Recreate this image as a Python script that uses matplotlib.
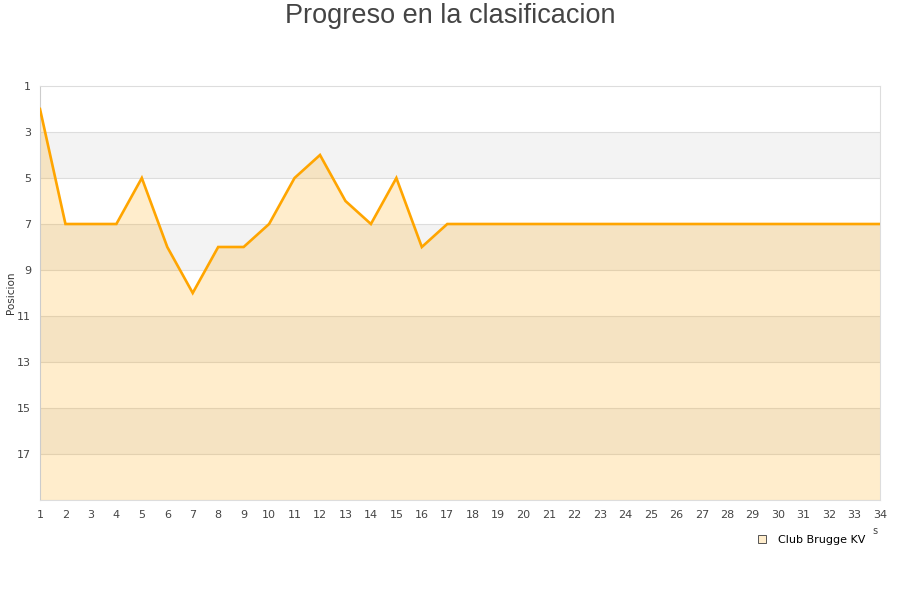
import matplotlib
matplotlib.use("Agg")
import matplotlib.pyplot as plt
from matplotlib.lines import Line2D

jornadas = list(range(1, 35))
posiciones = [2, 7, 7, 7, 5, 8, 10, 8, 8, 7, 5, 4, 6, 7, 5, 8, 7,
              7, 7, 7, 7, 7, 7, 7, 7, 7, 7, 7, 7, 7, 7, 7, 7, 7]
yticks = [1, 3, 5, 7, 9, 11, 13, 15, 17]
team = "Club Brugge KV"
title = "Progreso en la clasificacion"
ylabel = "Posicion"

fig = plt.figure(figsize=(9, 6), dpi=100)
ax = fig.add_axes([40/900, 100/600, 840/900, 414/600])

ymin, ymax = 1, 19
# alternating bands
for i, start in enumerate(range(ymin, ymax, 2)):
    if i % 2 == 1:
        ax.axhspan(start, start + 2, color="#f3f3f3", zorder=0, lw=0)
for t in yticks[1:]:
    ax.axhline(t, color="#dddddd", lw=0.8, zorder=1)
ax.axhline(19, color="#dddddd", lw=0.8, zorder=1)

ax.fill_between(jornadas, posiciones, ymax, color="#ffa500", alpha=0.2, lw=0, zorder=2)
ax.plot(jornadas, posiciones, color="#ffa500", lw=1.9, zorder=3, solid_joinstyle="miter")

ax.set_xlim(1, 34)
ax.set_ylim(ymax, ymin)
ax.set_yticks(yticks)
ax.set_xticks(jornadas)
ax.tick_params(axis="both", length=0, labelsize=8, colors="#444444")
ax.tick_params(axis="x", pad=7)
ax.tick_params(axis="y", pad=6.5)
for s in ax.spines.values():
    s.set_color("#dddddd")
    s.set_linewidth(0.8)
ax.spines["left"].set_color("#cccccc")

fig.text(11/900, 1 - 293/600, ylabel, rotation=90, ha="center", va="center",
         fontsize=7.5, color="#333333")

fig.text(0.5, 1 - 16/600, title, ha="center", va="center",
         fontsize=19.5, color="#444444", family="Liberation Sans")
fig.text(875/900, 1 - 531/600, "s", ha="center", va="center", fontsize=7, color="#444444")

handle = Line2D([], [], marker="s", ls="none", markersize=6,
                markerfacecolor="#ffedcc", markeredgecolor="#555555", markeredgewidth=0.7)
fig.legend([handle], [team], loc="center left", bbox_to_anchor=(752/900, 1 - 540/600),
           frameon=False, fontsize=8, handletextpad=0.9, borderaxespad=0, handlelength=1)

fig.savefig("out.png", dpi=100)
